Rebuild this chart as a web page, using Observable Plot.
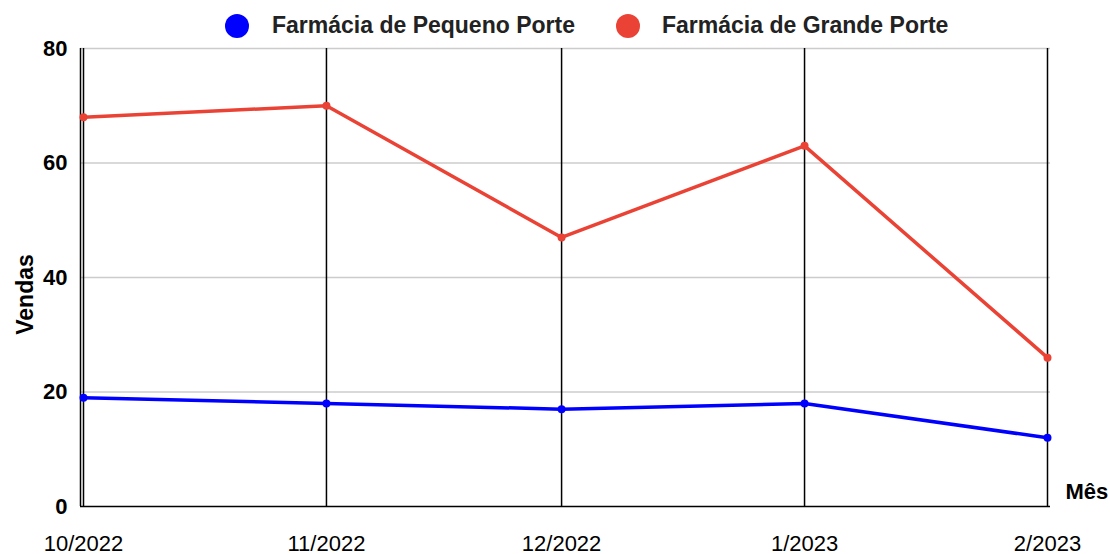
<!DOCTYPE html>
<html>
<head>
<meta charset="utf-8">
<script src="https://cdn.jsdelivr.net/npm/d3@7"></script>
<script src="https://cdn.jsdelivr.net/npm/@observablehq/plot@0.6"></script>
<style>
  html, body { margin: 0; padding: 0; background: #fff; }
  body { width: 1110px; height: 554px; overflow: hidden; font-family: "Liberation Sans", Arial, sans-serif; }
  #legend { position: relative; height: 40px; }
  .item { position: absolute; top: 12px; display: flex; align-items: center; font-weight: bold; font-size: 23px; color: #222; white-space: nowrap; }
  .sw { width: 24px; height: 24px; border-radius: 50%; display: inline-block; }
</style>
</head>
<body>
<div id="legend"></div>
<div id="chart"></div>
<script>
const months = ["2022-10-01", "2022-11-01", "2022-12-01", "2023-01-01", "2023-02-01"];
const monthLabels = ["10/2022", "11/2022", "12/2022", "1/2023", "2/2023"];
const pequeno = [19, 18, 17, 18, 12];
const grande = [68, 70, 47, 63, 26];
const seriesNames = ["Farmácia de Pequeno Porte", "Farmácia de Grande Porte"];
const seriesColors = ["#0000ff", "#ea4335"];
const yTicks = [0, 20, 40, 60, 80];

const dates = months.map(d => new Date(d + "T00:00:00Z"));
const labelOf = new Map(dates.map((d, i) => [+d, monthLabels[i]]));
const data = [];
dates.forEach((d, i) => {
  data.push({date: d, value: pequeno[i], series: seriesNames[0]});
  data.push({date: d, value: grande[i], series: seriesNames[1]});
});

// legend
const legend = document.getElementById("legend");
const legendLeft = [225, 616];
seriesNames.forEach((name, i) => {
  const it = document.createElement("div");
  it.className = "item";
  it.style.left = legendLeft[i] + "px";
  const sw = document.createElement("span");
  sw.className = "sw";
  sw.style.background = seriesColors[i];
  sw.style.marginRight = (i === 0 ? 23 : 22) + "px";
  it.appendChild(sw);
  it.appendChild(document.createTextNode(name));
  legend.appendChild(it);
});

const chart = Plot.plot({
  width: 1110,
  height: 514,
  marginTop: 8,
  marginBottom: 48,
  marginLeft: 80,
  marginRight: 60,
  style: {fontFamily: "'Liberation Sans', Arial, sans-serif", background: "#fff", overflow: "visible"},
  x: {type: "utc", domain: [dates[0], dates[dates.length - 1]], insetLeft: 3, insetRight: 3, label: null},
  y: {domain: [0, 80], label: null},
  color: {domain: seriesNames, range: seriesColors},
  marks: [
    Plot.ruleY(yTicks.slice(1), {stroke: "#cccccc", strokeWidth: 1.5}),
    Plot.ruleX(dates, {stroke: "#000", strokeWidth: 1.5}),
    Plot.ruleX([dates[0]], {stroke: "#000", strokeWidth: 1.5, dx: -3}),
    Plot.ruleY([0], {stroke: "#000", strokeWidth: 1.5}),
    Plot.axisY({ticks: yTicks, tickSize: 0, tickPadding: 13, fontSize: 22, fontWeight: "bold", label: null, fill: "#000"}),
    Plot.axisX({ticks: dates, tickFormat: d => labelOf.get(+d), tickSize: 0, tickPadding: 29, fontSize: 22, label: null, fill: "#000"}),
    Plot.line(data, {x: "date", y: "value", z: "series", stroke: "series", strokeWidth: 3.5}),
    Plot.dot(data, {x: "date", y: "value", fill: "series", r: 4}),
    Plot.text(["Vendas"], {frameAnchor: "left", rotate: -90, textAnchor: "middle", dx: -55, dy: 17, fontWeight: "bold", fontSize: 23, fill: "#000"}),
    Plot.text(["Mês"], {frameAnchor: "bottom-right", textAnchor: "start", dx: 15, dy: -8, fontWeight: "bold", fontSize: 22, fill: "#000"})
  ]
});
document.getElementById("chart").appendChild(chart);
</script>
</body>
</html>
